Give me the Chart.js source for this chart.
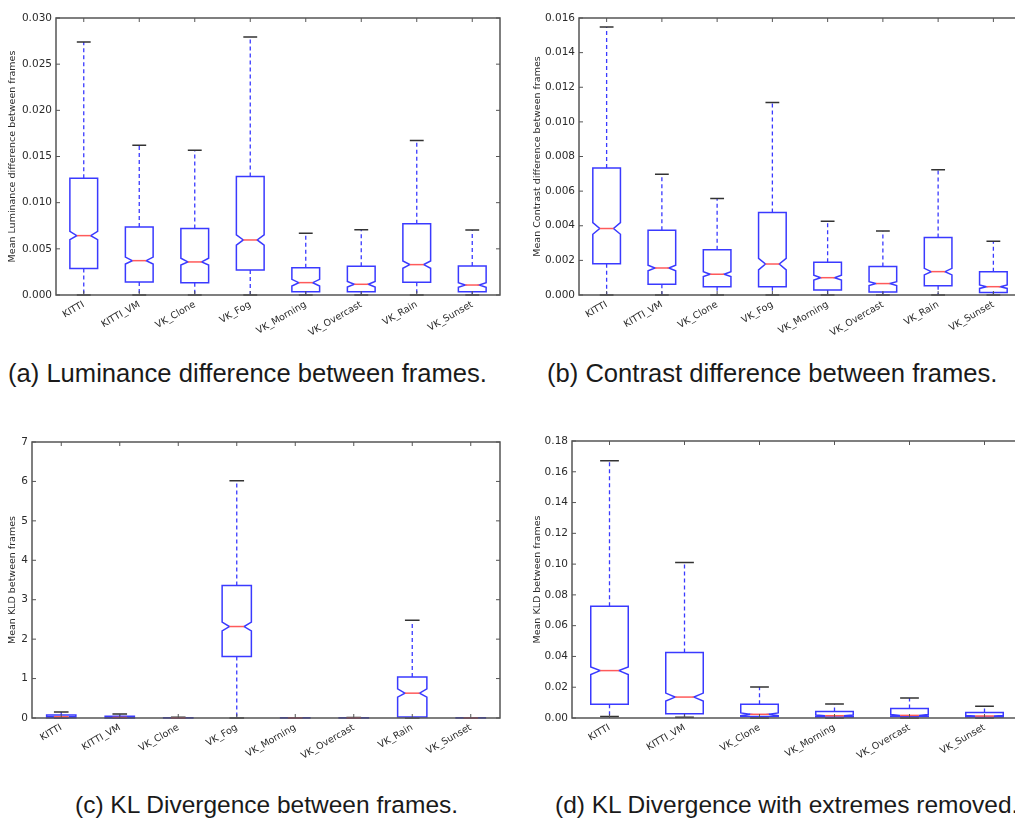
<!DOCTYPE html>
<html lang="en">
<head>
  <meta charset="UTF-8">
  <title>Frame difference box plots</title>
  <script src="https://cdn.jsdelivr.net/npm/chart.js"></script>
  <style>
    html, body { margin: 0; padding: 0; overflow: hidden; background: #fff; }
    body { width: 1015px; height: 833px; position: relative; font-family: 'Liberation Sans', Arial, sans-serif; }
    .panel { position: absolute; }
    .caption { position: absolute; font-size: 25.6px; line-height: 30px; color: #1a1a1a; white-space: nowrap; }
    .caption.low { font-size: 24.5px; }
  </style>
</head>
<body>
  <div class="panel" style="left:0;top:0;width:510px;height:350px"><canvas id="chartA"></canvas></div>
  <div class="panel" style="left:523px;top:0;width:512px;height:350px"><canvas id="chartB"></canvas></div>
  <div class="panel" style="left:0;top:420px;width:510px;height:350px"><canvas id="chartC"></canvas></div>
  <div class="panel" style="left:525px;top:420px;width:510px;height:350px"><canvas id="chartD"></canvas></div>

  <div class="caption" style="left:8px;top:358px">(a) Luminance difference between frames.</div>
  <div class="caption" style="left:547px;top:358px">(b) Contrast difference between frames.</div>
  <div class="caption low" style="left:75px;top:790px">(c) KL Divergence between frames.</div>
  <div class="caption low" style="left:555px;top:790px">(d) KL Divergence with extremes removed.</div>

  <script>
    const labelsAll = ['KITTI', 'KITTI_VM', 'VK_Clone', 'VK_Fog', 'VK_Morning', 'VK_Overcast', 'VK_Rain', 'VK_Sunset'];
    const labelsNoExt = ['KITTI', 'KITTI_VM', 'VK_Clone', 'VK_Morning', 'VK_Overcast', 'VK_Sunset'];

    // (a) luminance
    const lumLow  = [0, 0, 0, 0, 0, 0, 0, 0];
    const lumQ1   = [0.00286, 0.00141, 0.00134, 0.00271, 0.00036, 0.00036, 0.00137, 0.00036];
    const lumMed  = [0.00643, 0.00372, 0.00358, 0.00596, 0.00134, 0.00116, 0.00329, 0.00108];
    const lumQ3   = [0.01265, 0.00737, 0.00719, 0.01283, 0.00296, 0.00311, 0.00773, 0.00314];
    const lumHigh = [0.0274, 0.01623, 0.01569, 0.02794, 0.00669, 0.00708, 0.01673, 0.00705];
    const lumCiLo = [0.0060, 0.00336, 0.00325, 0.0054, 0.00098, 0.00086, 0.00289, 0.00083];
    const lumCiHi = [0.0069, 0.0041, 0.00398, 0.0065, 0.0017, 0.00146, 0.00369, 0.00133];
    const lumTicks = ['0.000', '0.005', '0.010', '0.015', '0.020', '0.025', '0.030'];

    // (b) contrast
    const conLow  = [0, 0, 0, 0, 0, 0, 0, 0];
    const conQ1   = [0.00181, 0.00062, 0.00048, 0.00048, 0.00029, 0.00017, 0.00054, 0.00015];
    const conMed  = [0.00384, 0.00156, 0.0012, 0.00179, 0.001, 0.00066, 0.00135, 0.00048];
    const conQ3   = [0.00733, 0.00374, 0.00262, 0.00476, 0.00189, 0.00164, 0.00332, 0.00135];
    const conHigh = [0.01548, 0.00698, 0.00557, 0.01112, 0.00426, 0.0037, 0.00723, 0.0031];
    const conCiLo = [0.00351, 0.0014, 0.00106, 0.00145, 0.00087, 0.00055, 0.00116, 0.00038];
    const conCiHi = [0.00418, 0.00172, 0.00134, 0.00212, 0.00114, 0.00077, 0.00154, 0.00058];
    const conTicks = ['0.000', '0.002', '0.004', '0.006', '0.008', '0.010', '0.012', '0.014', '0.016'];

    // (c) KL divergence, all sets
    const kldLow  = [0, 0, 0, 0, 0, 0, 0, 0];
    const kldQ1   = [0.009, 0.003, 0.0009, 1.56, 0.0006, 0.0009, 0.025, 0.0006];
    const kldMed  = [0.031, 0.0136, 0.0024, 2.32, 0.0015, 0.0017, 0.63, 0.0013];
    const kldQ3   = [0.073, 0.043, 0.009, 3.36, 0.0043, 0.0061, 1.04, 0.0035];
    const kldHigh = [0.15, 0.1, 0.02, 6.02, 0.009, 0.013, 2.48, 0.0076];
    const kldCiLo = [0.028, 0.011, 0.0015, 2.21, 0.001, 0.0012, 0.53, 0.0009];
    const kldCiHi = [0.033, 0.016, 0.0033, 2.43, 0.002, 0.0022, 0.74, 0.0017];
    const kldTicks = ['0', '1', '2', '3', '4', '5', '6', '7'];

    // (d) KL divergence, extremes removed
    const kldrLow  = [0.0009, 0.0005, 0, 0, 0, 0];
    const kldrQ1   = [0.0089, 0.0028, 0.0009, 0.0006, 0.0009, 0.0006];
    const kldrMed  = [0.0308, 0.0136, 0.0024, 0.0015, 0.0017, 0.0013];
    const kldrQ3   = [0.0726, 0.0425, 0.0089, 0.0043, 0.0061, 0.0035];
    const kldrHigh = [0.1672, 0.1011, 0.0201, 0.0091, 0.013, 0.0076];
    const kldrCiLo = [0.0282, 0.011, 0.0015, 0.001, 0.0012, 0.0009];
    const kldrCiHi = [0.0331, 0.0162, 0.0033, 0.002, 0.0022, 0.0017];
    const kldrTicks = ['0.00', '0.02', '0.04', '0.06', '0.08', '0.10', '0.12', '0.14', '0.16', '0.18'];

    const FONT = 'DejaVu Sans';
    const BLUE = '#3a3aff';

    // notched box plots, matplotlib style, placed with the chart's scales
    const boxPlugin = {
      id: 'boxes',
      afterDatasetsDraw(chart) {
        const st = chart.options.plugins.boxes;
        const x = chart.scales.x, y = chart.scales.y;
        const ctx = chart.ctx;
        const step = x.getPixelForValue(1) - x.getPixelForValue(0);
        const hw = step * 0.25;
        ctx.save();
        st.med.forEach((m, i) => {
          const cx = x.getPixelForValue(i);
          const yLow = y.getPixelForValue(st.low[i]), yHigh = y.getPixelForValue(st.high[i]);
          const yQ1 = y.getPixelForValue(st.q1[i]), yQ3 = y.getPixelForValue(st.q3[i]);
          const yMed = y.getPixelForValue(m);
          const yCl = y.getPixelForValue(st.ciLo[i]), yCh = y.getPixelForValue(st.ciHi[i]);

          // whiskers
          ctx.strokeStyle = BLUE;
          ctx.lineWidth = 1.3;
          ctx.setLineDash([4, 3]);
          ctx.beginPath();
          ctx.moveTo(cx, yQ3); ctx.lineTo(cx, yHigh);
          ctx.moveTo(cx, yQ1); ctx.lineTo(cx, yLow);
          ctx.stroke();
          ctx.setLineDash([]);

          // caps
          ctx.strokeStyle = '#333';
          ctx.lineWidth = 1.5;
          ctx.beginPath();
          ctx.moveTo(cx - hw / 2, yHigh); ctx.lineTo(cx + hw / 2, yHigh);
          ctx.moveTo(cx - hw / 2, yLow); ctx.lineTo(cx + hw / 2, yLow);
          ctx.stroke();

          // notched box
          const l = cx - hw, r = cx + hw, nl = cx - hw / 2, nr = cx + hw / 2;
          ctx.strokeStyle = BLUE;
          ctx.lineWidth = 1.5;
          ctx.beginPath();
          ctx.moveTo(l, yQ1); ctx.lineTo(r, yQ1); ctx.lineTo(r, yCl); ctx.lineTo(nr, yMed);
          ctx.lineTo(r, yCh); ctx.lineTo(r, yQ3); ctx.lineTo(l, yQ3); ctx.lineTo(l, yCh);
          ctx.lineTo(nl, yMed); ctx.lineTo(l, yCl); ctx.closePath();
          ctx.stroke();

          // median
          ctx.strokeStyle = '#ff5a5a';
          ctx.lineWidth = 1.5;
          ctx.beginPath();
          ctx.moveTo(nl, yMed); ctx.lineTo(nr, yMed);
          ctx.stroke();
        });
        ctx.restore();
      }
    };

    // full frame with inward ticks on all four sides
    const framePlugin = {
      id: 'frame',
      afterDraw(chart) {
        const { ctx, chartArea: a, scales: { x, y } } = chart;
        ctx.save();
        ctx.strokeStyle = '#555';
        ctx.lineWidth = 1;
        ctx.beginPath();
        y.ticks.forEach((t, i) => {
          const py = y.getPixelForTick(i);
          ctx.moveTo(a.left, py); ctx.lineTo(a.left + 4, py);
          ctx.moveTo(a.right, py); ctx.lineTo(a.right - 4, py);
        });
        x.ticks.forEach((t, i) => {
          const px = x.getPixelForTick(i);
          ctx.moveTo(px, a.bottom); ctx.lineTo(px, a.bottom - 4);
          ctx.moveTo(px, a.top); ctx.lineTo(px, a.top + 4);
        });
        ctx.stroke();
        ctx.lineWidth = 1.5;
        ctx.strokeRect(a.left, a.top, a.right - a.left, a.bottom - a.top);
        ctx.restore();
      }
    };

    function makeChart(id, labels, stats, tickLabels, yTitle, cfg) {
      return new Chart(document.getElementById(id), {
        type: 'bar',
        data: { labels: labels, datasets: [] },
        options: {
          responsive: true,
          maintainAspectRatio: false,
          animation: false,
          layout: { padding: { top: cfg.top, right: cfg.right, left: 0, bottom: 0 } },
          plugins: { legend: { display: false }, tooltip: { enabled: false }, boxes: stats },
          scales: {
            x: {
              type: 'category',
              offset: true,
              grid: { display: false, drawTicks: false },
              border: { display: false },
              ticks: { font: { family: FONT, size: 9.5 }, color: '#2b2b2b', minRotation: 30, maxRotation: 30, padding: 4 },
              afterFit: s => { s.height = cfg.xh; }
            },
            y: {
              min: parseFloat(tickLabels[0]),
              max: parseFloat(tickLabels[tickLabels.length - 1]),
              grid: { display: false, drawTicks: false },
              border: { display: false },
              afterBuildTicks: s => { s.ticks = tickLabels.map(t => ({ value: parseFloat(t) })); },
              ticks: {
                font: { family: FONT, size: 10.5 }, color: '#2b2b2b', padding: 4,
                callback: (v, i) => tickLabels[i]
              },
              title: { display: true, text: yTitle, font: { family: FONT, size: 9.5 }, color: '#2b2b2b', padding: { top: cfg.tp, bottom: 0 } },
              afterFit: s => { s.width = cfg.yw; }
            }
          }
        },
        plugins: [boxPlugin, framePlugin]
      });
    }

    makeChart('chartA', labelsAll,
      { low: lumLow, q1: lumQ1, med: lumMed, q3: lumQ3, high: lumHigh, ciLo: lumCiLo, ciHi: lumCiHi },
      lumTicks, 'Mean Luminance difference between frames',
      { top: 18, right: 10, xh: 55, yw: 56, tp: 7 });

    makeChart('chartB', labelsAll,
      { low: conLow, q1: conQ1, med: conMed, q3: conQ3, high: conHigh, ciLo: conCiLo, ciHi: conCiHi },
      conTicks, 'Mean Contrast difference between frames',
      { top: 18, right: 14, xh: 55, yw: 56, tp: 9 });

    makeChart('chartC', labelsAll,
      { low: kldLow, q1: kldQ1, med: kldMed, q3: kldQ3, high: kldHigh, ciLo: kldCiLo, ciHi: kldCiHi },
      kldTicks, 'Mean KLD between frames',
      { top: 22, right: 10, xh: 52, yw: 32, tp: 7 });

    makeChart('chartD', labelsNoExt,
      { low: kldrLow, q1: kldrQ1, med: kldrMed, q3: kldrQ3, high: kldrHigh, ciLo: kldrCiLo, ciHi: kldrCiHi },
      kldrTicks, 'Mean KLD between frames',
      { top: 21, right: 13, xh: 52, yw: 47, tp: 7 });
  </script>
</body>
</html>
